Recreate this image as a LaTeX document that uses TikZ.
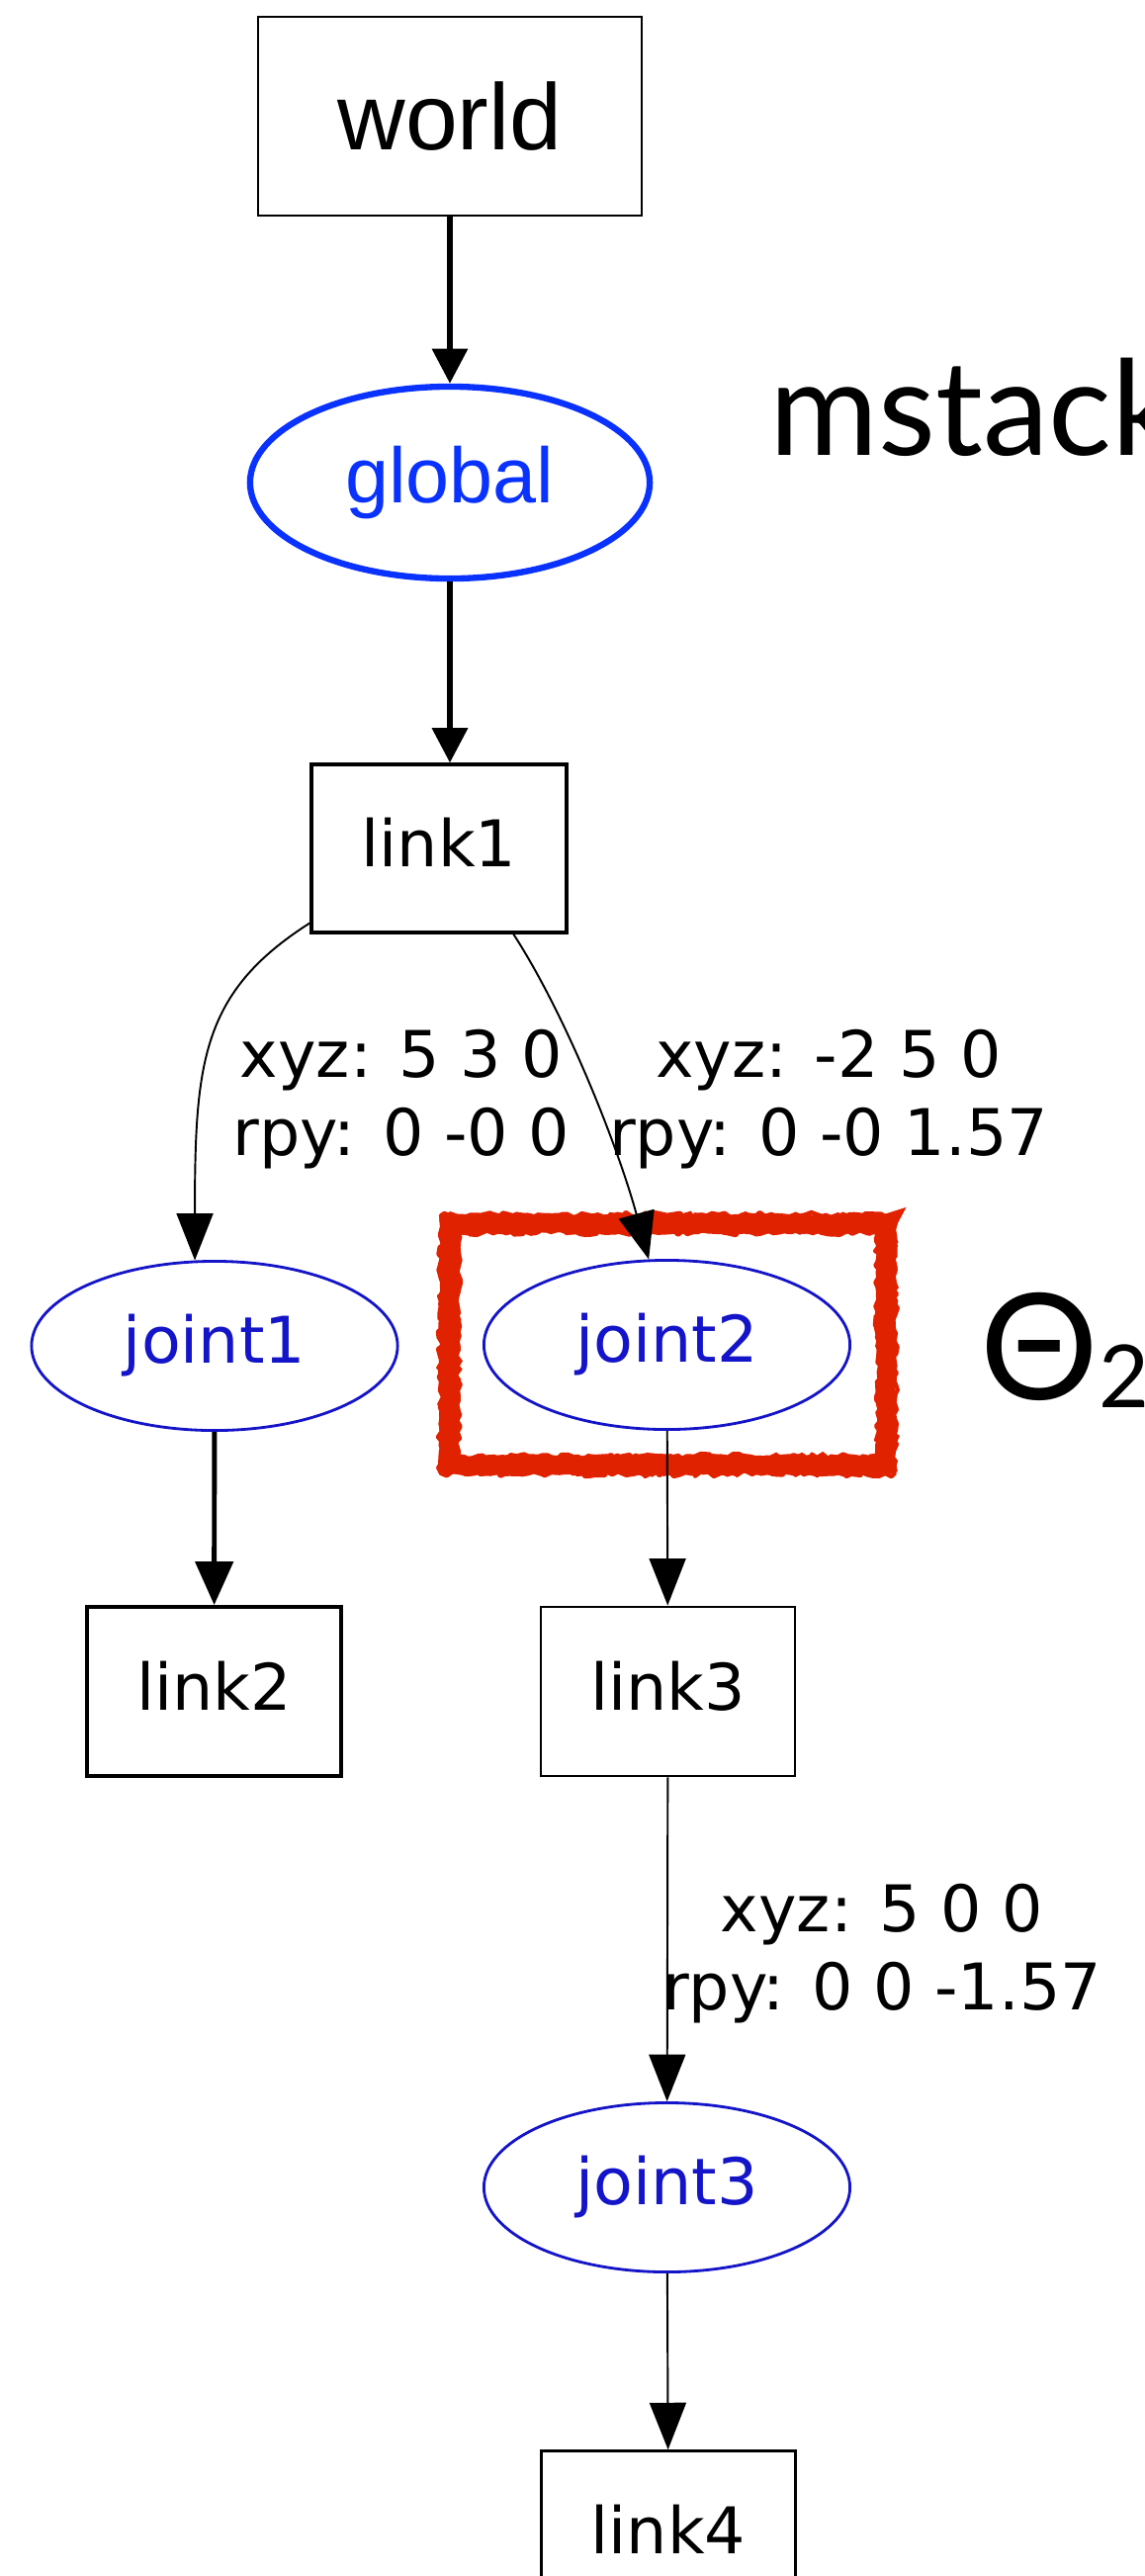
\documentclass[tikz,border=0pt]{standalone}
\usepackage{fontspec}
\usetikzlibrary{arrows.meta,shapes.geometric,decorations.pathmorphing}
\newfontfamily\dvfont{DejaVu Sans}
\newfontfamily\libfont{Liberation Sans}
\newfontfamily\latofont{Lato}
\definecolor{gblue}{HTML}{0A32FF}
\definecolor{jblue}{HTML}{1414C8}
\definecolor{redmark}{HTML}{E02200}
\begin{document}
\begin{tikzpicture}[x=0.01cm,y=-0.01cm,
  linkbox/.style={draw, rectangle, inner sep=0pt, line width=0.9pt,
    minimum width=2.57cm, minimum height=1.71cm,
    text height=14pt, text depth=3.4pt,
    font=\dvfont\fontsize{18.5}{22.5}\selectfont},
  jointell/.style={draw=jblue, ellipse, inner sep=0pt, line width=0.8pt, text=jblue,
    minimum width=3.70cm, minimum height=1.71cm,
    font=\dvfont\fontsize{18.5}{22.5}\selectfont},
  lbl/.style={align=center, inner sep=0pt, font=\dvfont\fontsize{18.5}{22.5}\selectfont},
  thinedge/.style={line width=0.55pt, -{Triangle[width=10.5pt,length=13.5pt]}},
  thickedge/.style={line width=1.4pt, -{Triangle[width=10.8pt,length=12.5pt]}},
  topedge/.style={line width=1.7pt, -{Triangle[width=10pt,length=10pt]}},
  hlbox/.style={draw=redmark, line width=5.6pt, line join=miter,
    decorate, decoration={random steps, segment length=1.2pt, amplitude=0.45pt}},
  hlrough/.style={draw=redmark, line width=1.2pt, line join=round,
    decorate, decoration={random steps, segment length=1.6pt, amplitude=0.9pt}}
]
\useasboundingbox (0,0) rectangle (1158,2605);
\clip (0,0) rectangle (1158,2605);
\pgfmathsetseed{7}

% highlight box
\draw[hlbox] (454.5,1237.5) rectangle (896.5,1481.5);
\draw[hlrough] (446,1229) rectangle (905,1490);
\draw[hlrough] (463,1246) rectangle (888,1473);

% nodes
\node[draw, rectangle, inner sep=0pt, line width=0.7pt, minimum width=3.88cm, minimum height=2.01cm,
  font=\libfont\fontsize{27}{30}\selectfont] (world) at (455,117.5) {world};
\node[draw=gblue, ellipse, inner sep=0pt, line width=1.8pt, text=gblue,
  minimum width=4.04cm, minimum height=1.94cm,
  font=\libfont\fontsize{22.5}{26}\selectfont] (global) at (455,488) {global};
\node[linkbox, minimum width=2.58cm, minimum height=1.70cm] (link1) at (444,858) {link1};
\node[jointell] (joint1) at (217,1361) {joint1};
\node[jointell] (joint2) at (674.5,1360) {joint2};
\node[linkbox, line width=1.1pt] (link2) at (216.5,1710.5) {link2};
\node[linkbox, line width=0.8pt] (link3) at (675.5,1710.5) {link3};
\node[jointell] (joint3) at (674.5,2212) {joint3};
\node[linkbox, line width=0.7pt] (link4) at (676,2564) {link4};

% texts
\node[anchor=base west, inner sep=0pt, font=\latofont\fontsize{38}{40}\selectfont] (title) at (778,460) {mstack};
\node[anchor=base west, inner sep=0pt, font=\latofont\fontsize{42.5}{44}\selectfont] (theta) at (991,1415)
  {Θ\raisebox{-2.3pt}{\fontsize{25}{26}\selectfont 2}};

% edge labels
\node[lbl] (lab1) at (406,1111.5) {xyz: 5 3 0\\rpy: 0 -0 0};
\node[lbl] (lab2) at (838,1111.5) {xyz: -2 5 0\\rpy: 0 -0 1.57};
\node[lbl] (lab3) at (892,1975.5) {xyz: 5 0 0\\rpy: 0 0 -1.57};

% edges
\draw[topedge] (world) -- (global);
\draw[topedge] (global.south) -- (global.south |- link1.north);
\draw[thinedge] (link1.210) .. controls +(-110,70) and +(0,-200) .. (joint1.103);
\draw[thinedge] (link1.-49) .. controls +(55,85) and +(-30,-110) .. (joint2.102);
\draw[thickedge] (joint1) -- (link2);
\draw[thinedge] (joint2) -- (link3);
\draw[thinedge] (link3) -- (joint3);
\draw[thinedge] (joint3) -- (link4);
\end{tikzpicture}
\end{document}
